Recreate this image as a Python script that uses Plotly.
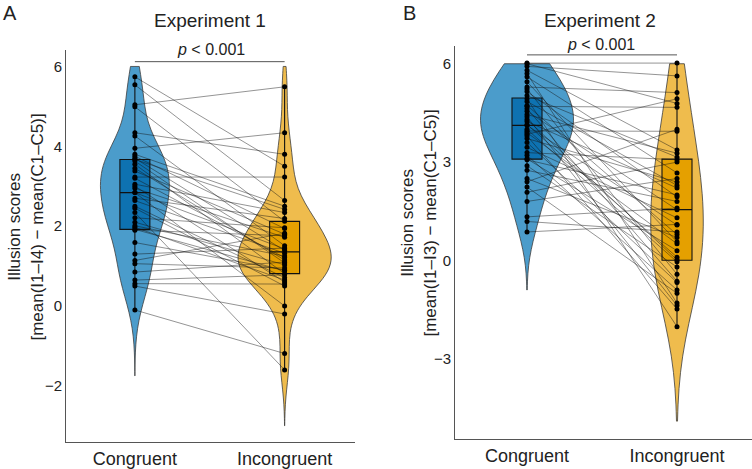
import plotly.graph_objects as go

# ---------------- data ----------------
categories = ["Congruent", "Incongruent"]

# Experiment 1 (paired scores: index i in both lists = same participant)
exp1_congruent = [5.74, 5.54, 5.04, 4.99, 4.34, 4.26, 3.95, 3.80, 3.75, 3.70, 3.67, 3.63,
                  3.55, 3.38, 3.23, 3.20, 3.05, 3.00, 2.95, 2.84, 2.84, 2.70, 2.64, 2.50,
                  2.34, 2.21, 2.10, 2.01, 1.97, 1.92, 1.90, 2.45, 1.59, 1.30, 3.45, 1.14,
                  1.06, 0.85, 0.65, 0.56, 0.50, -0.10]
exp1_incongruent = [3.50, 2.64, 5.49, 2.12, 3.80, 1.51, 4.34, 2.50, 1.94, 1.39, 2.42, 1.08,
                    0.81, 1.80, 3.23, 1.21, 2.34, 0.60, 1.72, 1.43, 0.00, 2.19, 1.32, 0.71,
                    -1.60, 1.96, 1.03, 1.25, 0.65, 0.88, 1.76, 0.50, 0.90, 1.45, 1.15, 1.82,
                    0.95, 1.10, 0.78, 0.55, -0.20, -1.19]

# Experiment 2
exp2_congruent = [6.02, 6.00, 5.92, 4.15, 5.80, 5.70, 5.60, 3.85, 5.45, 5.29, 5.23, 5.15,
                  5.03, 4.93, 4.85, 4.73, 4.70, 4.63, 4.55, 4.45, 4.38, 4.30, 4.24, 4.12,
                  4.00, 3.95, 3.90, 3.80, 3.72, 3.60, 3.45, 3.29, 3.21, 3.10, 3.07, 2.89,
                  2.75, 2.50, 2.40, 2.24, 2.08, 1.80, 1.33, 1.19, 0.87]
exp2_incongruent = [6.02, 4.79, 5.63, 0.10, 3.37, -1.30, 2.67, 4.93, 0.57, 5.12, -0.42, 1.94,
                    3.15, -2.02, 2.29, 0.79, 4.67, -0.63, 1.55, 3.27, -1.37, 0.02, 2.21, 1.08,
                    -0.04, 3.94, 0.51, -1.48, 2.39, -0.67, 1.30, 3.07, -0.90, 0.30, 2.00, -0.20,
                    1.80, 0.70, 4.00, -1.00, 3.00, 2.50, 1.60, 0.87, 1.10]

exp_titles = ["Experiment 1", "Experiment 2"]
panel_letters = ["A", "B"]
y_titles = ["Illusion scores<br>[mean(I1–I4) − mean(C1–C5)]",
            "Illusion scores<br>[mean(I1–I3) − mean(C1–C5)]"]
y_ticks = [[-2, 0, 2, 4, 6], [-3, 0, 3, 6]]
p_text = "<i>p</i> &lt; 0.001"

# ---------------- style ----------------
W, H = 752, 469
FONT = "Liberation Sans, Arial, sans-serif"
violin_fill = ["#4B9CCB", "#EFBC4D"]
box_fill = ["#0E72B1", "#E5A000"]


def px(x):
    return x / W


def py(y):
    return 1 - y / H


fig = go.Figure()

panels = [
    dict(c=exp1_congruent, i=exp1_incongruent, xa="x", ya="y",
         bw=[0.6, 0.55], span=[[-1.75, 6], [-3.0, 6]], vw=[0.46, 0.62]),
    dict(c=exp2_congruent, i=exp2_incongruent, xa="x2", ya="y2",
         bw=[0.75, 1.5], span=[[-0.9, 6], [-4.9, 6]], vw=[0.62, 0.35]),
]

for p in panels:
    series = [p["c"], p["i"]]
    for k, vals in enumerate(series):
        fig.add_trace(go.Violin(
            x=[categories[k]] * len(vals), y=vals, xaxis=p["xa"], yaxis=p["ya"],
            fillcolor=violin_fill[k], line=dict(color="#3c3c3c", width=0.8),
            opacity=1, points=False, box_visible=False, meanline_visible=False,
            spanmode="manual", span=p["span"][k], bandwidth=p["bw"][k],
            width=p["vw"][k], scalemode="width", showlegend=False, hoverinfo="skip"))
    for k, vals in enumerate(series):
        fig.add_trace(go.Box(
            x=[categories[k]] * len(vals), y=vals, xaxis=p["xa"], yaxis=p["ya"],
            fillcolor=box_fill[k], line=dict(color="#111111", width=1.1),
            boxpoints=False, whiskerwidth=0, width=0.2,
            showlegend=False, hoverinfo="skip"))
    # paired lines
    lx, ly = [], []
    for a, b in zip(p["c"], p["i"]):
        lx += [categories[0], categories[1], None]
        ly += [a, b, None]
    fig.add_trace(go.Scatter(x=lx, y=ly, mode="lines", xaxis=p["xa"], yaxis=p["ya"],
                             line=dict(color="rgba(20,20,20,0.65)", width=0.7),
                             showlegend=False, hoverinfo="skip"))
    for k, vals in enumerate(series):
        fig.add_trace(go.Scatter(x=[categories[k]] * len(vals), y=vals, mode="markers",
                                 xaxis=p["xa"], yaxis=p["ya"],
                                 marker=dict(color="black", size=5),
                                 showlegend=False, hoverinfo="skip"))

axis_common = dict(showline=True, linecolor="#555555", linewidth=1, showgrid=False,
                   zeroline=False, ticks="", tickfont=dict(family=FONT, size=15, color="#222"))

fig.update_layout(
    width=W, height=H, margin=dict(l=0, r=0, t=0, b=0),
    paper_bgcolor="white", plot_bgcolor="white",
    violinmode="overlay", boxmode="overlay",
    font=dict(family=FONT, color="#222"),
    xaxis=dict(axis_common, domain=[px(66), px(355)], anchor="y", type="category",
               categoryorder="array", categoryarray=categories, range=[-0.46, 1.47],
               tickfont=dict(family=FONT, size=18, color="#222")),
    yaxis=dict(axis_common, domain=[py(445), py(50)], anchor="x", range=[-3.41, 6.42],
               tickvals=y_ticks[0], ticktext=[str(v).replace("-", "−") for v in y_ticks[0]]),
    xaxis2=dict(axis_common, domain=[px(455), 1.0], anchor="y2", type="category",
                categoryorder="array", categoryarray=categories, range=[-0.48, 1.5],
                tickfont=dict(family=FONT, size=18, color="#222")),
    yaxis2=dict(axis_common, domain=[py(442), py(46)], anchor="x2", range=[-5.45, 6.55],
                tickvals=y_ticks[1], ticktext=[str(v).replace("-", "−") for v in y_ticks[1]]),
)

ann = []
ann.append(dict(text=panel_letters[0], x=px(1), y=py(13), xanchor="left", yanchor="middle",
                font=dict(size=20)))
ann.append(dict(text=panel_letters[1], x=px(401), y=py(13), xanchor="left", yanchor="middle",
                font=dict(size=20)))
ann.append(dict(text=exp_titles[0], x=px(210), y=py(21), xanchor="center", yanchor="middle",
                font=dict(size=19)))
ann.append(dict(text=exp_titles[1], x=px(600), y=py(21), xanchor="center", yanchor="middle",
                font=dict(size=19)))
ann.append(dict(text=p_text, x=px(211), y=py(50), xanchor="center", yanchor="middle",
                font=dict(size=16)))
ann.append(dict(text=p_text, x=px(601), y=py(45), xanchor="center", yanchor="middle",
                font=dict(size=16)))
ann.append(dict(text=y_titles[0], x=px(26), y=py(229), xanchor="center", yanchor="middle",
                textangle=-90, font=dict(size=17)))
ann.append(dict(text=y_titles[1], x=px(419), y=py(225), xanchor="center", yanchor="middle",
                textangle=-90, font=dict(size=17)))
for a in ann:
    a.update(xref="paper", yref="paper", showarrow=False)
    a["font"].update(family=FONT, color="#222")
fig.update_layout(annotations=ann)

fig.add_shape(type="line", xref="x", yref="y", x0=0, x1=1, y0=6.12, y1=6.12,
              line=dict(color="#555", width=1))
fig.add_shape(type="line", xref="x2", yref="y2", x0=0, x1=1, y0=6.27, y1=6.27,
              line=dict(color="#555", width=1))

fig.write_html("out.html")
